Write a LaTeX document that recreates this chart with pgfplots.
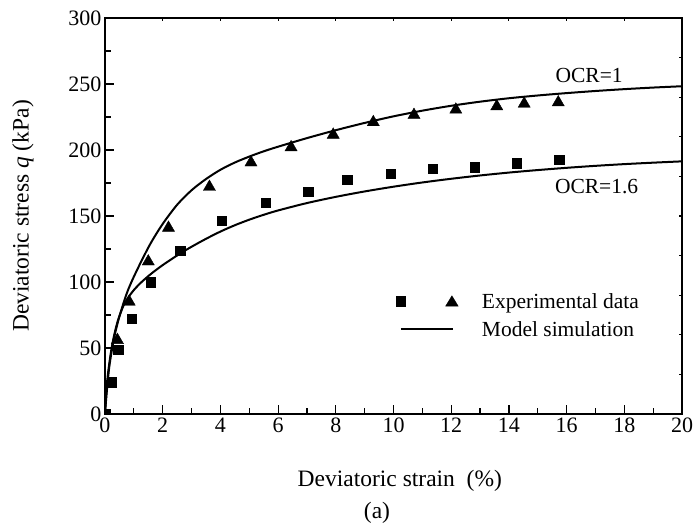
\documentclass[border=0pt]{standalone}
\usepackage{fontspec}
\setmainfont{Liberation Serif}
\usepackage{pgfplots}
\pgfplotsset{compat=1.18}

\newcommand{\ticksize}{\fontsize{22}{26}\selectfont}
\newcommand{\labelsize}{\fontsize{23.5}{28}\selectfont}
\newcommand{\notesize}{\fontsize{21.5}{26}\selectfont}

\begin{document}
\begin{tikzpicture}[x=1pt,y=1pt]
\useasboundingbox (0,0) rectangle (696,530);

% short ticks on the top and right edges
\begin{axis}[
  at={(105pt,116pt)}, anchor=south west,
  scale only axis, width=577pt, height=396pt,
  xmin=0, xmax=20, ymin=0, ymax=300,
  xtick={0,2,...,20}, ytick={0,30,...,300},
  xtick pos=right, ytick pos=right,
  tick align=inside,
  major tick length=2.7pt,
  every tick/.style={black, line width=1.1pt},
  xticklabels={}, yticklabels={},
  axis line style={line width=1.8pt},
]
\end{axis}

\begin{axis}[
  at={(105pt,116pt)}, anchor=south west,
  scale only axis, width=577pt, height=396pt,
  xmin=0, xmax=20, ymin=0, ymax=300,
  xtick={0,2,...,20}, ytick={0,50,...,300},
  minor x tick num=1, minor y tick num=1,
  xtick pos=left, ytick pos=left,
  tick align=inside,
  major tick length=9pt, minor tick length=5.5pt,
  every tick/.style={black, line width=1.2pt},
  axis line style={line width=1.8pt},
  tick label style={font=\ticksize},
  /pgf/number format/assume math mode=true,
  xlabel={Deviatoric strain\ \ (\%)},
  ylabel={Deviatoric stress \textit{q} (kPa)},
  label style={font=\labelsize},
  xlabel style={at={(axis description cs:0.511,-0.182)}, anchor=base},
  ylabel style={at={(axis description cs:-0.142,0.5)}, anchor=center},
  clip marker paths=true,
  legend style={draw=none, fill=none, font=\notesize,
    at={(axis cs:10.08,93.2)}, anchor=north west,
    row sep=7.6pt, inner sep=0pt},
  legend cell align=left,
]
% model simulation, OCR = 1
\addplot[black, line width=2pt, smooth, forget plot] coordinates {
  (0,0) (0.05,14) (0.15,36) (0.3,56) (0.45,70) (0.64,84) (0.8,94)
  (1.0,104) (1.3,117.5) (1.6,130) (2.0,144) (2.5,158.5) (3.0,169.5)
  (3.5,178) (4.0,185) (4.5,190.5) (5.0,195) (5.5,199) (6.0,202.5)
  (7.0,209) (8.0,215) (9.0,220.5) (10.0,225.5) (11.0,229.8) (12.0,233.5)
  (13.0,236.6) (14.0,239.2) (15.0,241.3) (16.0,243.1) (17.0,244.7)
  (18.0,246.1) (19.0,247.3) (20.0,248.3)
};
% model simulation, OCR = 1.6
\addplot[black, line width=2pt, smooth, forget plot] coordinates {
  (0,0) (0.05,17) (0.1,30) (0.2,46) (0.3,58) (0.45,71) (0.64,82)
  (0.8,88.1) (1.0,93.9) (1.25,99.6) (1.58,105.9) (2.0,112.8) (2.6,121.5)
  (3.0,126.7) (3.5,132.7) (4.0,138.2) (4.5,143) (5.0,147.2) (5.5,150.9)
  (6.0,154.2) (7.0,159.8) (8.0,164.5) (9.0,168.6) (10.0,172.2)
  (11.0,175.4) (12.0,178.2) (13.0,180.7) (14.0,182.9) (15.0,184.8)
  (16.0,186.5) (17.0,188) (18.0,189.3) (19.0,190.4) (20.0,191.4)
};
% experimental data, OCR = 1.6
\addplot[only marks, mark=square*, mark size=4.7pt, black, forget plot] coordinates {
  (0,0) (0.23,24) (0.46,48.5) (0.92,72) (1.58,99.7) (2.6,123.7)
  (4.04,146.5) (5.57,160) (7.05,168.5) (8.4,177.5) (9.91,182)
  (11.35,186) (12.82,187) (14.27,190) (15.74,192.5)
};
% experimental data, OCR = 1
\addplot[only marks, mark=triangle*, mark size=7pt, black, forget plot] coordinates {
  (0.43,56) (0.84,85) (1.5,115.5) (2.2,141) (3.62,172) (5.06,190.5)
  (6.45,202) (7.91,211.5) (9.3,221) (10.71,226.5) (12.16,230.5)
  (13.58,233) (14.53,235) (15.71,236)
};

\addlegendimage{legend image code/.code={
  \path[draw=none, fill=none] (0pt,0pt) -- (79pt,0pt);
  \fill[black] (-4.7pt,-4.7pt) rectangle (4.7pt,4.7pt);
  \fill[black] (51pt,5.6pt) -- (44.7pt,-4.8pt) -- (57.3pt,-4.8pt) -- cycle;
}}
\addlegendentry{Experimental data}
\addlegendimage{legend image code/.code={
  \path[draw=none, fill=none] (0pt,0pt) -- (79pt,0pt);
  \draw[black, line width=2pt] (0pt,0pt) -- (52pt,0pt);
}}
\addlegendentry{Model simulation}

\node[font=\notesize] at (axis cs:16.78,256.8) {OCR=1};
\node[font=\notesize] at (axis cs:17.04,172) {OCR=1.6};
\end{axis}

\node[font=\labelsize, anchor=base] at (377,11) {(a)};
\end{tikzpicture}
\end{document}
